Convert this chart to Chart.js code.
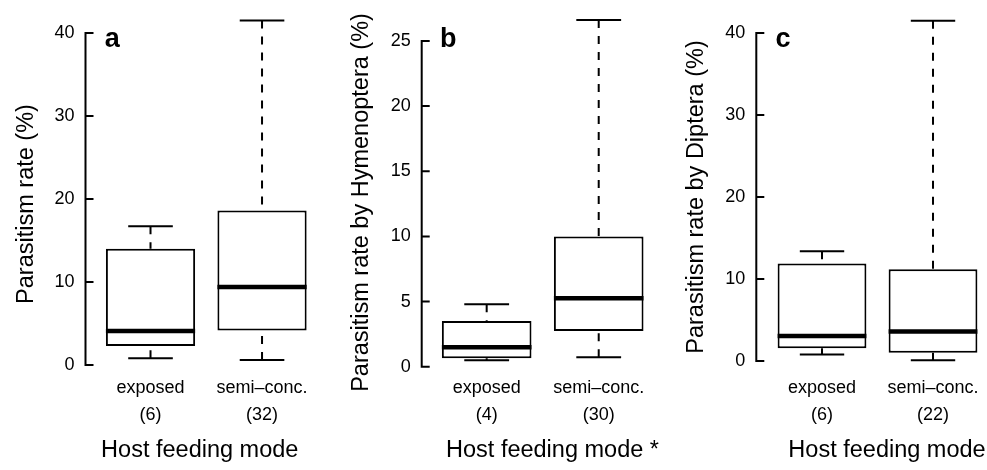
<!DOCTYPE html>
<html>
<head>
<meta charset="utf-8">
<script src="https://cdn.jsdelivr.net/npm/chart.js@4.4.1/dist/chart.umd.min.js"></script>
<style>
  html, body { margin: 0; padding: 0; background: #fff; overflow: hidden; }
  #wrap { position: relative; width: 987px; height: 470px; overflow: hidden; }
  canvas { position: absolute; left: 0; top: 0; }
</style>
</head>
<body>
<div id="wrap">
  <canvas id="panelA" width="1040" height="470"></canvas>
  <canvas id="panelB" width="1040" height="470"></canvas>
  <canvas id="panelC" width="1040" height="470"></canvas>
</div>
<script>
// --- DATA ---
const groups = ['exposed', 'semi\u2013conc.'];

// a: parasitism rate (%)
const nA = [6, 32];
const lowA = [0.8, 0.6];
const q1A = [2.3, 4.15];
const medA = [4.1, 9.4];
const q3A = [14.0, 18.6];
const highA = [16.7, 41.5];
const ticksA = [0, 10, 20, 30, 40];

// b: parasitism rate by Hymenoptera (%)
const nB = [4, 30];
const lowB = [0.5, 0.72];
const q1B = [0.64, 2.74];
const medB = [1.5, 5.25];
const q3B = [3.5, 10.0];
const highB = [4.8, 26.6];
const ticksB = [0, 5, 10, 15, 20, 25];

// c: parasitism rate by Diptera (%)
const nC = [6, 22];
const lowC = [0.8, 0.1];
const q1C = [1.55, 1.0];
const medC = [3.05, 3.6];
const q3C = [11.9, 11.2];
const highC = [13.4, 41.5];
const ticksC = [0, 10, 20, 30, 40];

Chart.defaults.font.family = "'Liberation Sans', Arial, sans-serif";
Chart.defaults.color = '#000';

const W = 1040, H = 470;
const titleSize = 23.5, titleLH = titleSize * 1.2;
const tickSize = 18, tickLH = tickSize * 1.5;
const tickLabelY = 388;   // centre of first x label line
const xTitleY = 451;      // centre of x axis title

// draws whiskers, medians, the R-style axis line and the panel letter
function boxExtras(p) {
  return {
    id: 'boxExtras',
    afterDatasetsDraw(chart) {
      const { ctx, chartArea, scales: { x, y } } = chart;
      const meta = chart.getDatasetMeta(0);
      ctx.save();
      ctx.strokeStyle = '#000';
      ctx.lineCap = 'butt';
      p.med.forEach((m, i) => {
        const cx = x.getPixelForValue(i + 1);
        const half = meta.data[i].width / 2;
        const cap = half / 2;
        // dashed whiskers, drawn from the cap toward the box
        ctx.lineWidth = 2;
        ctx.setLineDash([8, 8]);
        ctx.beginPath();
        ctx.moveTo(cx, y.getPixelForValue(p.high[i]));
        ctx.lineTo(cx, y.getPixelForValue(p.q3[i]));
        ctx.moveTo(cx, y.getPixelForValue(p.low[i]));
        ctx.lineTo(cx, y.getPixelForValue(p.q1[i]));
        ctx.stroke();
        ctx.setLineDash([]);
        // caps
        ctx.beginPath();
        [p.low[i], p.high[i]].forEach(v => {
          const py = y.getPixelForValue(v);
          ctx.moveTo(cx - cap, py);
          ctx.lineTo(cx + cap, py);
        });
        ctx.stroke();
        // median
        ctx.lineWidth = 4.5;
        ctx.beginPath();
        const my = y.getPixelForValue(m);
        ctx.moveTo(cx - half, my);
        ctx.lineTo(cx + half, my);
        ctx.stroke();
      });

      // y axis line only between first and last tick, ticks pointing inward
      const ax = chartArea.left;
      const tl = 8;
      const ys = p.yTicks.map(v => y.getPixelForValue(v));
      ctx.lineWidth = 2;
      ctx.lineJoin = 'miter';
      ctx.beginPath();
      ctx.moveTo(ax + tl, ys[ys.length - 1]);
      ctx.lineTo(ax, ys[ys.length - 1]);
      ctx.lineTo(ax, ys[0]);
      ctx.lineTo(ax + tl, ys[0]);
      ys.slice(1, -1).forEach(py => {
        ctx.moveTo(ax, py);
        ctx.lineTo(ax + tl, py);
      });
      ctx.stroke();

      // panel letter
      ctx.fillStyle = '#000';
      ctx.font = "bold 27px 'Liberation Sans', Arial, sans-serif";
      ctx.textAlign = 'left';
      ctx.textBaseline = 'alphabetic';
      ctx.fillText(p.letter, x.getPixelForValue(p.letterAt[0]), y.getPixelForValue(p.letterAt[1]));
      ctx.restore();
    }
  };
}

function makePanel(id, p) {
  const f = p.frame;
  const padLeft = f.yTitleX - titleLH / 2;
  return new Chart(document.getElementById(id), {
    type: 'bar',
    data: {
      datasets: [{
        data: p.q1.map((q, i) => ({ x: i + 1, y: [q, p.q3[i]] })),
        backgroundColor: '#fff',
        borderColor: '#000',
        borderWidth: 2,
        borderSkipped: false,
        barPercentage: 0.8,
        categoryPercentage: 1
      }]
    },
    options: {
      responsive: false,
      animation: false,
      devicePixelRatio: 1,
      layout: { padding: { left: padLeft, right: W - f.right, top: f.top, bottom: 0 } },
      plugins: { legend: { display: false }, tooltip: { enabled: false } },
      scales: {
        x: {
          type: 'linear',
          min: p.xRange[0],
          max: p.xRange[1],
          bounds: 'data',
          offset: false,
          grid: { display: false, drawTicks: false, offset: false },
          border: { display: false },
          afterBuildTicks: s => { s.ticks = groups.map((g, i) => ({ value: i + 1 })); },
          ticks: {
            autoSkip: false,
            maxRotation: 0,
            // mirror keeps the labels unclipped; with it the padding counts upward
            mirror: true,
            font: { size: tickSize, lineHeight: 1.5 },
            padding: f.bottom - tickLH / 2 - tickLabelY,
            callback: (v, i) => [groups[i], '(' + p.n[i] + ')']
          },
          title: {
            display: true,
            text: p.xTitle,
            font: { size: titleSize },
            padding: { top: 0, bottom: H - xTitleY - titleLH / 2 }
          },
          afterFit: s => {
            s.height = H - f.bottom;
            s.paddingLeft = 0;
            s.paddingRight = 0;
          }
        },
        y: {
          type: 'linear',
          min: p.yRange[0],
          max: p.yRange[1],
          bounds: 'data',
          grid: { display: false, drawTicks: false },
          border: { display: false },
          afterBuildTicks: s => { s.ticks = p.yTicks.map(v => ({ value: v })); },
          ticks: { autoSkip: false, font: { size: tickSize }, padding: 11 },
          title: {
            display: true,
            text: p.yTitle,
            font: { size: titleSize },
            padding: { top: 0, bottom: 0 }
          },
          afterFit: s => {
            s.width = f.left - padLeft;
            s.paddingTop = 0;
            s.paddingBottom = 0;
          }
        }
      }
    },
    plugins: [boxExtras(p)]
  });
}

makePanel('panelA', {
  n: nA, low: lowA, q1: q1A, med: medA, q3: q3A, high: highA, yTicks: ticksA,
  xTitle: 'Host feeding mode', yTitle: 'Parasitism rate (%)',
  letter: 'a', letterAt: [0.59, 38.3],
  xRange: [0.417, 2.466], yRange: [-4.46, 43.25],
  frame: { left: 85.5, right: 314, top: 6, bottom: 402, yTitleX: 26.7 }
});

makePanel('panelB', {
  n: nB, low: lowB, q1: q1B, med: medB, q3: q3B, high: highB, yTicks: ticksB,
  xTitle: 'Host feeding mode *', yTitle: 'Parasitism rate by Hymenoptera (%)',
  letter: 'b', letterAt: [0.583, 24.5],
  xRange: [0.420, 2.755], yRange: [-2.48, 27.68],
  frame: { left: 421.7, right: 683.3, top: 6, bottom: 399, yTitleX: 361.5 }
});

makePanel('panelC', {
  n: nC, low: lowC, q1: q1C, med: medC, q3: q3C, high: highC, yTicks: ticksC,
  xTitle: 'Host feeding mode', yTitle: 'Parasitism rate by Diptera (%)',
  letter: 'c', letterAt: [0.58, 38.3],
  xRange: [0.408, 2.763], yRange: [-3.29, 43.29],
  frame: { left: 756.3, right: 1017.7, top: 6, bottom: 388, yTitleX: 697 }
});
</script>
</body>
</html>
